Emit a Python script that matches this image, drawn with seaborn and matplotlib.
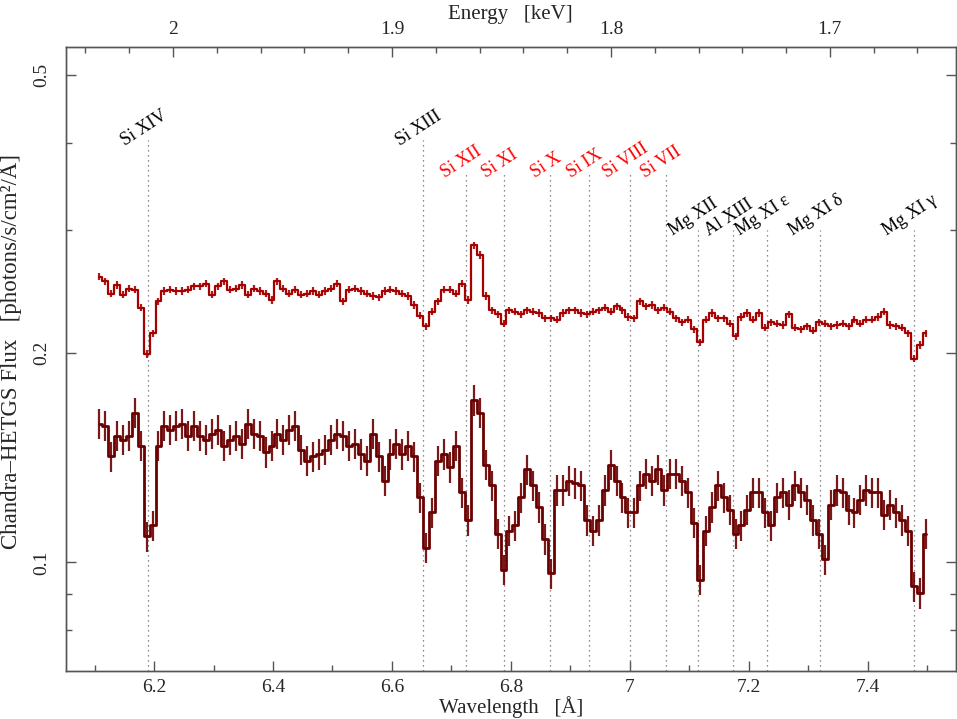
import matplotlib
matplotlib.use("Agg")
import matplotlib.pyplot as plt
import numpy as np
import pandas as pd
import seaborn as sns
from matplotlib.ticker import FixedLocator, MultipleLocator, NullFormatter, FormatStrFormatter

# Spektren, Bins von 0.01 A (Bin-Mitten ab 6.1075 A)
WAVE_START = 6.1075
WAVE_BIN = 0.01

upper_flux = [
    0.257, 0.253, 0.243, 0.250, 0.242, 0.247, 0.246, 0.232, 0.199, 0.213,
    0.237, 0.245, 0.246, 0.245, 0.245, 0.246, 0.249, 0.249, 0.251, 0.242,
    0.249, 0.253, 0.246, 0.247, 0.250, 0.242, 0.247, 0.245, 0.243, 0.238,
    0.253, 0.247, 0.243, 0.246, 0.242, 0.243, 0.245, 0.242, 0.245, 0.247,
    0.251, 0.237, 0.246, 0.247, 0.245, 0.243, 0.241, 0.240, 0.245, 0.246,
    0.245, 0.243, 0.241, 0.234, 0.226, 0.218, 0.229, 0.237, 0.246, 0.246,
    0.243, 0.251, 0.238, 0.285, 0.276, 0.241, 0.230, 0.227, 0.220, 0.230,
    0.229, 0.227, 0.230, 0.229, 0.228, 0.224, 0.224, 0.223, 0.228, 0.230,
    0.230, 0.228, 0.227, 0.229, 0.230, 0.232, 0.229, 0.233, 0.230, 0.225,
    0.224, 0.237, 0.233, 0.234, 0.230, 0.232, 0.229, 0.224, 0.221, 0.223,
    0.216, 0.207, 0.223, 0.228, 0.224, 0.224, 0.220, 0.211, 0.225, 0.228,
    0.223, 0.228, 0.217, 0.221, 0.220, 0.219, 0.227, 0.217, 0.216, 0.218,
    0.215, 0.221, 0.220, 0.218, 0.219, 0.220, 0.218, 0.223, 0.220, 0.223,
    0.223, 0.225, 0.229, 0.219, 0.218, 0.217, 0.213, 0.196, 0.205, 0.213,
]

lower_flux = [
    0.158, 0.157, 0.142, 0.152, 0.150, 0.152, 0.164, 0.147, 0.109, 0.113,
    0.147, 0.157, 0.155, 0.157, 0.158, 0.152, 0.157, 0.152, 0.150, 0.153,
    0.155, 0.147, 0.150, 0.152, 0.148, 0.158, 0.153, 0.152, 0.144, 0.147,
    0.153, 0.150, 0.155, 0.157, 0.145, 0.140, 0.142, 0.143, 0.145, 0.150,
    0.153, 0.152, 0.147, 0.148, 0.143, 0.140, 0.153, 0.142, 0.131, 0.143,
    0.148, 0.143, 0.147, 0.142, 0.124, 0.105, 0.118, 0.140, 0.143, 0.137,
    0.147, 0.126, 0.115, 0.171, 0.164, 0.138, 0.129, 0.110, 0.0976, 0.111,
    0.113, 0.124, 0.136, 0.129, 0.120, 0.108, 0.0965, 0.127, 0.127, 0.131,
    0.130, 0.129, 0.115, 0.111, 0.115, 0.127, 0.138, 0.131, 0.124, 0.118,
    0.118, 0.129, 0.134, 0.131, 0.136, 0.127, 0.134, 0.134, 0.131, 0.126,
    0.114, 0.0944, 0.111, 0.120, 0.129, 0.124, 0.119, 0.110, 0.113, 0.119,
    0.126, 0.126, 0.118, 0.113, 0.124, 0.126, 0.121, 0.129, 0.126, 0.123,
    0.115, 0.110, 0.101, 0.121, 0.127, 0.126, 0.119, 0.118, 0.123, 0.127,
    0.126, 0.126, 0.117, 0.121, 0.118, 0.115, 0.111, 0.0924, 0.0904, 0.110,
]

# relative Fehler pro Spektrum
upper_rel_err = 0.012
lower_rel_err = 0.05

# Linien-Identifikationen
line_names = ["Si XIV", "Si XIII", "Si XII", "Si XI", "Si X", "Si IX", "Si VIII",
              "Si VII", "Mg XII", "Al XIII", "Mg XI ε", "Mg XI δ", "Mg XI γ"]
line_wavelengths = [6.190, 6.652, 6.724, 6.788, 6.866, 6.931, 7.000,
                    7.060, 7.114, 7.174, 7.231, 7.320, 7.477]
line_groups = ["hot", "hot", "si", "si", "si", "si", "si",
               "si", "mg", "mg", "mg", "mg", "mg"]

energy_ticks = [2.0, 1.9, 1.8, 1.7]
wave_ticks = [6.2, 6.4, 6.6, 6.8, 7.0, 7.2, 7.4]
flux_ticks = [0.1, 0.2, 0.5]
flux_minor = [0.08, 0.09, 0.3, 0.4]

# Stil
UPPER_COLOR = "#a60000"
LOWER_COLOR = "#6a0000"
SPINE_COLOR = "#555555"
group_top = {"hot": 0.404, "si": 0.364, "mg": 0.300}
group_color = {"hot": "black", "si": "#ff0000", "mg": "black"}
XLIM = (6.0516, 7.5474)
YLIM = (0.0699, 0.549)
ELIM = (2.049, 1.6426)

sns.set_theme(style="ticks")
plt.rcParams["font.family"] = ["Liberation Serif", "DejaVu Serif"]
plt.rcParams["axes.edgecolor"] = SPINE_COLOR

fig = plt.figure(figsize=(9.57, 7.19), dpi=100)
ax = fig.add_axes([0.0687, 0.0668, 0.9298, 0.8683])

wavelength = np.round(WAVE_START + WAVE_BIN * np.arange(len(upper_flux)), 4)
df = pd.DataFrame({"wavelength": wavelength, "upper": upper_flux, "lower": lower_flux})

for col, color, lw, rel in [("upper", UPPER_COLOR, 1.6, upper_rel_err),
                            ("lower", LOWER_COLOR, 2.0, lower_rel_err)]:
    sns.lineplot(data=df, x="wavelength", y=col, ax=ax, color=color, lw=lw,
                 drawstyle="steps-mid", errorbar=None)
    ax.errorbar(df["wavelength"], df[col], yerr=df[col] * rel, fmt="none",
                ecolor=color, elinewidth=1.6, capsize=0, alpha=0.9)

ax.set_yscale("log")
ax.set_xlim(*XLIM)
ax.set_ylim(*YLIM)

# Linien + Beschriftung
for w, name, grp in zip(line_wavelengths, line_names, line_groups):
    top = group_top[grp]
    ax.plot([w, w], [YLIM[0], top], ls=(0, (1, 3)), color="#666666", lw=0.9, zorder=1)
    ax.annotate(name, xy=(w, top), xytext=(-3, -7), textcoords="offset points",
                rotation=33, ha="center", va="bottom", color=group_color[grp], fontsize=13)

# Achsen
ax.xaxis.set_major_locator(FixedLocator(wave_ticks))
ax.xaxis.set_minor_locator(MultipleLocator(0.1))
ax.xaxis.set_major_formatter(FormatStrFormatter("%g"))
ax.yaxis.set_major_locator(FixedLocator(flux_ticks))
ax.yaxis.set_minor_locator(FixedLocator(flux_minor))
ax.yaxis.set_major_formatter(FormatStrFormatter("%g"))
ax.yaxis.set_minor_formatter(NullFormatter())
ax.tick_params(which="both", direction="in", color=SPINE_COLOR, labelsize=14,
               top=False, right=True, bottom=True, left=True)
ax.tick_params(which="major", length=7, width=1)
ax.tick_params(which="minor", length=4, width=1)
ax.tick_params(axis="x", pad=6)
ax.tick_params(axis="y", labelrotation=90, pad=11)
for lab in ax.get_yticklabels():
    lab.set_va("center")

ax.set_xlabel("Wavelength   [Å]", fontsize=15, labelpad=0)
ax.set_ylabel("Chandra–HETGS Flux   [photons/s/cm²/Å]", fontsize=16.5)
ax.yaxis.set_label_coords(-0.049, 0.512)

ax2 = ax.twiny()
ax2.set_xlim(*ELIM)
ax2.xaxis.set_major_locator(FixedLocator(energy_ticks))
ax2.xaxis.set_minor_locator(MultipleLocator(0.02))
ax2.xaxis.set_major_formatter(FormatStrFormatter("%g"))
ax2.tick_params(which="both", direction="in", color=SPINE_COLOR, labelsize=14, pad=6)
ax2.tick_params(which="major", length=7, width=1)
ax2.tick_params(which="minor", length=4, width=1)
ax2.set_xlabel("Energy   [keV]", fontsize=15, labelpad=2)

for a in (ax, ax2):
    for s in a.spines.values():
        s.set_color(SPINE_COLOR)
        s.set_linewidth(1)

fig.savefig("out.png", dpi=100)
